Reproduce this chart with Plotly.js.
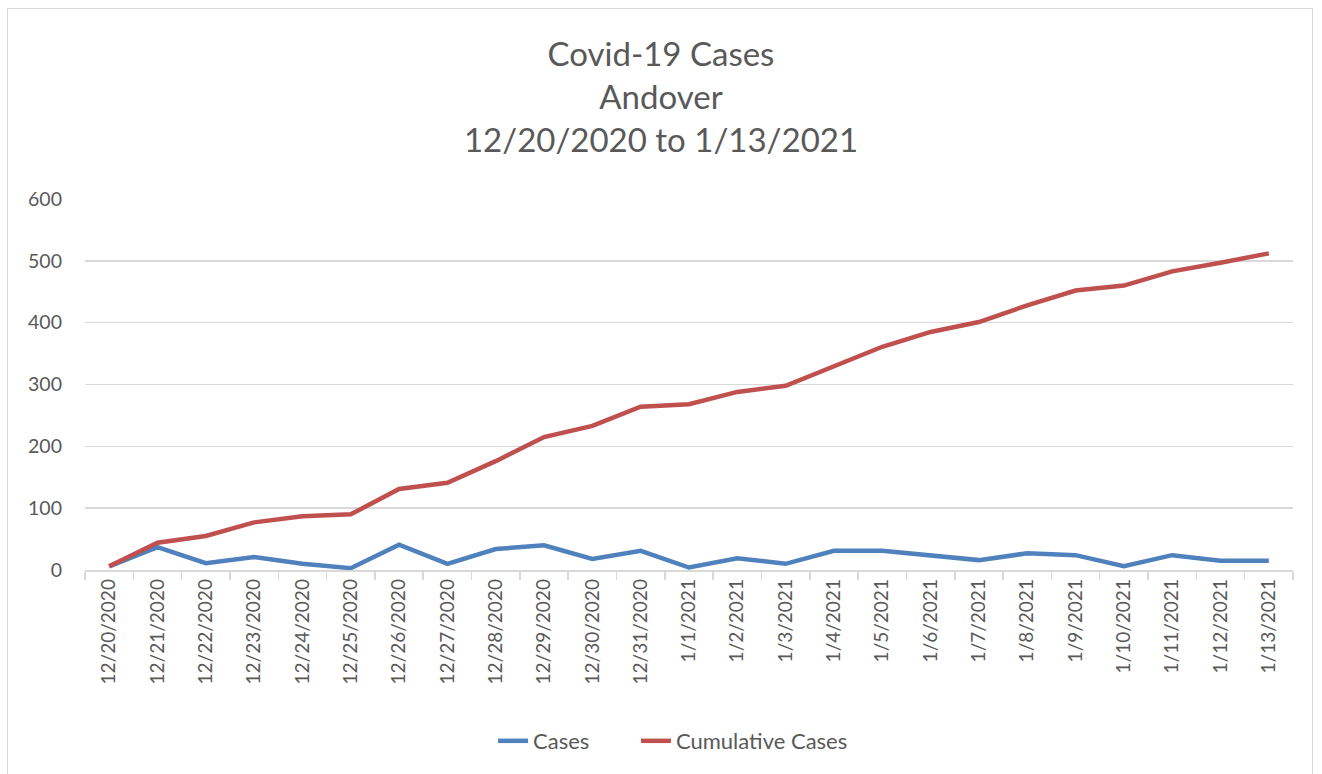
<!DOCTYPE html>
<html>
<head>
<meta charset="utf-8">
<script src="https://cdn.plot.ly/plotly-3.0.1.min.js"></script>
<style>
  html, body { margin: 0; padding: 0; background: #fff; overflow: hidden; }
  #chart { width: 1322px; height: 774px; }
  #frame { position: absolute; left: 7px; top: 8px; width: 1306px; height: 820px;
           border: 1.5px solid #d9d9d9; pointer-events: none; box-sizing: border-box; }
</style>
</head>
<body>
<div id="chart"></div>
<div id="frame"></div>
<script>
const dates = ["12/20/2020","12/21/2020","12/22/2020","12/23/2020","12/24/2020","12/25/2020",
  "12/26/2020","12/27/2020","12/28/2020","12/29/2020","12/30/2020","12/31/2020",
  "1/1/2021","1/2/2021","1/3/2021","1/4/2021","1/5/2021","1/6/2021","1/7/2021",
  "1/8/2021","1/9/2021","1/10/2021","1/11/2021","1/12/2021","1/13/2021"];
const cases = [6,37,11,21,10,3,41,10,34,40,18,31,4,19,10,31,31,24,16,27,24,6,24,15,15];
const cumulativeCases = [6,44,55,77,87,90,131,141,176,215,233,264,268,288,298,330,361,385,401,428,452,460,483,497,512];

const FONT = "Lato, 'Open Sans', sans-serif";
const traces = [
  { x: dates, y: cases, name: "Cases", type: "scatter", mode: "lines",
    line: { color: "#4f81bd", width: 4.5 }, legend: "legend" },
  { x: dates, y: cumulativeCases, name: "Cumulative Cases", type: "scatter", mode: "lines",
    line: { color: "#c0504d", width: 4.5 }, legend: "legend2" }
];
const legendFont = { family: FONT, size: 22, color: "#595959" };
const layout = {
  width: 1322, height: 774,
  margin: { l: 85, r: 29, t: 199, b: 204 },
  paper_bgcolor: "#fff", plot_bgcolor: "#fff",
  font: { family: FONT, color: "#595959", size: 19 },
  title: { text: "Covid-19 Cases<br>Andover<br>12/20/2020 to 1/13/2021",
    font: { family: FONT, size: 33, color: "#595959" },
    x: 0.5, xanchor: "center", y: 0.915, yanchor: "top", yref: "container" },
  xaxis: { type: "category", range: [-0.5, 24.5], tickangle: -90,
    showgrid: false, showline: true, linecolor: "#d9d9d9", linewidth: 1.5,
    ticks: "outside", tickson: "boundaries", ticklen: 8, tickcolor: "#d9d9d9", tickwidth: 1.5,
    tickfont: { family: FONT, size: 19, color: "#595959" }, fixedrange: true },
  yaxis: { range: [0, 600], dtick: 100, showgrid: true, gridcolor: "#d9d9d9", gridwidth: 1.5,
    zeroline: false, showline: false, ticks: "", ticklabelstandoff: 22,
    tickfont: { family: FONT, size: 19.5, color: "#595959" }, fixedrange: true },
  showlegend: true,
  legend: { orientation: "h", x: 0.3378, xanchor: "left", y: -0.461, yanchor: "middle",
    font: legendFont, bgcolor: "rgba(0,0,0,0)" },
  legend2: { orientation: "h", x: 0.4561, xanchor: "left", y: -0.461, yanchor: "middle",
    font: legendFont, bgcolor: "rgba(0,0,0,0)" },
  hovermode: false
};
Plotly.newPlot("chart", traces, layout, { displayModeBar: false, staticPlot: true });
</script>
</body>
</html>
